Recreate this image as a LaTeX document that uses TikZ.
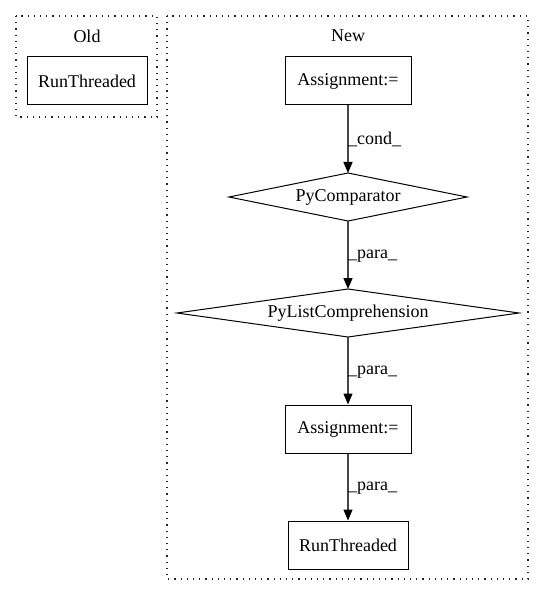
\documentclass[tikz,border=0pt]{standalone}
\usepackage{fontspec}
\setmainfont{Liberation Serif}
\usetikzlibrary{shapes.geometric,arrows.meta}
\begin{document}
\begin{tikzpicture}[x=1pt,y=-1pt,
  txt/.style={font=\fontsize{18pt}{21pt}\selectfont,inner sep=0pt},
  box/.style={draw,line width=1pt,rectangle,minimum width=#1,minimum height=48pt,inner sep=0pt,txt},
  clus/.style={draw,line width=1.2pt,gray!30!black,dash pattern=on 1.2pt off 5pt},
  edge/.style={draw,line width=1.4pt,gray!55!black,-{Triangle[length=11pt,width=9pt,fill=black,color=black]}},
  elab/.style={txt,anchor=west}]
\useasboundingbox (0,0) rectangle (544,596);
% clusters
\draw[clus] (16,16) rectangle (157,117);
\draw[clus] (167,16) rectangle (528,579);
\node[txt] (oldt) at (87,36) {Old};
\node[txt] (newt) at (348,36) {New};
% nodes
\node[box=120pt] (rt1) at (87,81) {RunThreaded};
\node[box=126pt] (a1) at (348,81) {Assignment:=};
\node[box=126pt] (a2) at (348,429) {Assignment:=};
\node[box=120pt] (rt2) at (348,545) {RunThreaded};
% diamonds drawn as polygons
\coordinate (pcN) at (348,173);
\coordinate (pcS) at (348,221);
\coordinate (plN) at (348,289);
\coordinate (plS) at (348,337);
\draw[line width=1pt] (229,197) -- (pcN) -- (467,197) -- (pcS) -- cycle;
\draw[line width=1pt] (177,313) -- (plN) -- (519,313) -- (plS) -- cycle;
\node[txt] (pct) at (348,197) {PyComparator};
\node[txt] (plt) at (348,313) {PyListComprehension};
% edges
\draw[edge] (a1.south) -- (pcN);
\draw[edge] (pcS) -- (plN);
\draw[edge] (plS) -- (a2.north);
\draw[edge] (a2.south) -- (rt2.north);
% edge labels
\node[elab] (l1) at (348,139) {\_cond\_};
\node[elab] (l2) at (348,256) {\_para\_};
\node[elab] (l3) at (348,372) {\_para\_};
\node[elab] (l4) at (348,488) {\_para\_};
\end{tikzpicture}
\end{document}
